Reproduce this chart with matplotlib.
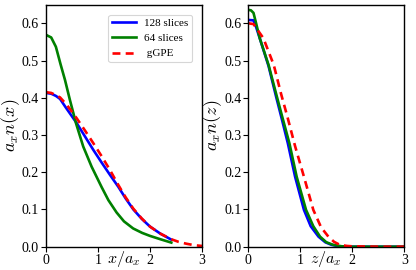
import matplotlib
matplotlib.use("Agg")
import matplotlib.pyplot as plt

plt.rcParams['font.family'] = ['Liberation Serif', 'DejaVu Serif']
plt.rcParams['mathtext.fontset'] = 'cm'

# Left panel: a_x n(x) vs x/a_x
x128 = [0.0, 0.1, 0.19, 0.27, 0.38, 0.59, 0.75, 0.91, 1.07, 1.23, 1.39, 1.53, 1.68, 1.84, 2.0, 2.2, 2.41]
n128 = [0.413, 0.411, 0.405, 0.397, 0.374, 0.332, 0.296, 0.260, 0.226, 0.193, 0.161, 0.130, 0.100, 0.075, 0.054, 0.035, 0.019]
x64 = [0.0, 0.1, 0.19, 0.28, 0.365, 0.46, 0.576, 0.716, 0.877, 1.07, 1.2, 1.357, 1.5, 1.676, 1.85, 2.0, 2.2, 2.41]
n64 = [0.569, 0.562, 0.537, 0.49, 0.448, 0.394, 0.332, 0.269, 0.215, 0.160, 0.125, 0.092, 0.068, 0.049, 0.037, 0.029, 0.020, 0.011]
xg = [0.0, 0.1, 0.19, 0.27, 0.4, 0.59, 0.75, 0.91, 1.07, 1.23, 1.39, 1.53, 1.68, 1.84, 2.0, 2.2, 2.41, 2.55, 2.7, 2.85, 3.0]
ng = [0.415, 0.413, 0.407, 0.401, 0.381, 0.345, 0.312, 0.278, 0.243, 0.206, 0.166, 0.133, 0.102, 0.076, 0.054, 0.035, 0.020, 0.013, 0.008, 0.004, 0.002]

# Right panel: a_x n(z) vs z/a_x
z128 = [0.0, 0.1, 0.15, 0.22, 0.39, 0.54, 0.65, 0.76, 0.9, 1.07, 1.2, 1.35, 1.48, 1.6, 1.75, 2.0, 3.0]
m128 = [0.609, 0.608, 0.59, 0.56, 0.485, 0.40, 0.34, 0.278, 0.188, 0.099, 0.055, 0.027, 0.012, 0.005, 0.001, 0.0, 0.0]
z64 = [0.0, 0.05, 0.1, 0.15, 0.22, 0.39, 0.54, 0.66, 0.79, 0.93, 1.11, 1.25, 1.38, 1.5, 1.63, 1.8, 2.0, 3.0]
m64 = [0.636, 0.635, 0.628, 0.60, 0.56, 0.488, 0.408, 0.345, 0.278, 0.188, 0.099, 0.055, 0.027, 0.012, 0.005, 0.001, 0.0, 0.0]
zg = [0.0, 0.1, 0.2, 0.29, 0.49, 0.635, 0.75, 0.9, 1.07, 1.25, 1.4, 1.54, 1.65, 1.76, 1.9, 2.0, 2.5, 3.0]
mg = [0.600, 0.598, 0.578, 0.56, 0.488, 0.408, 0.35, 0.27, 0.188, 0.099, 0.052, 0.027, 0.013, 0.005, 0.002, 0.001, 0.0, 0.0]

labels = ['128 slices', '64 slices', ' gGPE']
xticks = [0, 1, 2, 3]
yticks = [0.0, 0.1, 0.2, 0.3, 0.4, 0.5, 0.6]

fig = plt.figure(figsize=(4.16, 2.70), dpi=100)
axL = fig.add_axes([46/416, 23.3/270, 156/416, 242/270])
axR = fig.add_axes([248.3/416, 23.3/270, 156/416, 242/270])

lw = 1.9
for ax, data, xl, yl in [
    (axL, [(x128, n128), (x64, n64), (xg, ng)], r'$x/a_x$', r'$a_x n(x)$'),
    (axR, [(z128, m128), (z64, m64), (zg, mg)], r'$z/a_x$', r'$a_x n(z)$'),
]:
    (a1, b1), (a2, b2), (a3, b3) = data
    ax.plot(a1, b1, color='#0000ff', lw=lw, label=labels[0])
    ax.plot(a2, b2, color='#008000', lw=lw, label=labels[1])
    ax.plot(a3, b3, color='#ff0000', lw=lw, ls=(0, (3, 2)), label=labels[2])
    ax.set_xlim(0, 3)
    ax.set_ylim(0, 0.65)
    ax.set_xticks(xticks)
    ax.set_xticklabels([str(t) for t in xticks])
    ax.set_yticks(yticks)
    ax.set_yticklabels(['%.1f' % t for t in yticks])
    ax.tick_params(labelsize=10, length=3.5, width=0.8, pad=1.5)
    ax.set_xlabel(xl, fontsize=11.5, labelpad=-12.5)
    ax.set_ylabel(yl, fontsize=13, labelpad=0)
    for s in ax.spines.values():
        s.set_linewidth(1.0)

leg = axL.legend(loc='upper right', fontsize=8, handlelength=2.2, frameon=True,
                 borderpad=0.3, labelspacing=0.5, handletextpad=0.75,
                 bbox_to_anchor=(1.0, 1.0), borderaxespad=0.9)
leg.get_frame().set_linewidth(0.8)

fig.savefig('out.png', dpi=100)
